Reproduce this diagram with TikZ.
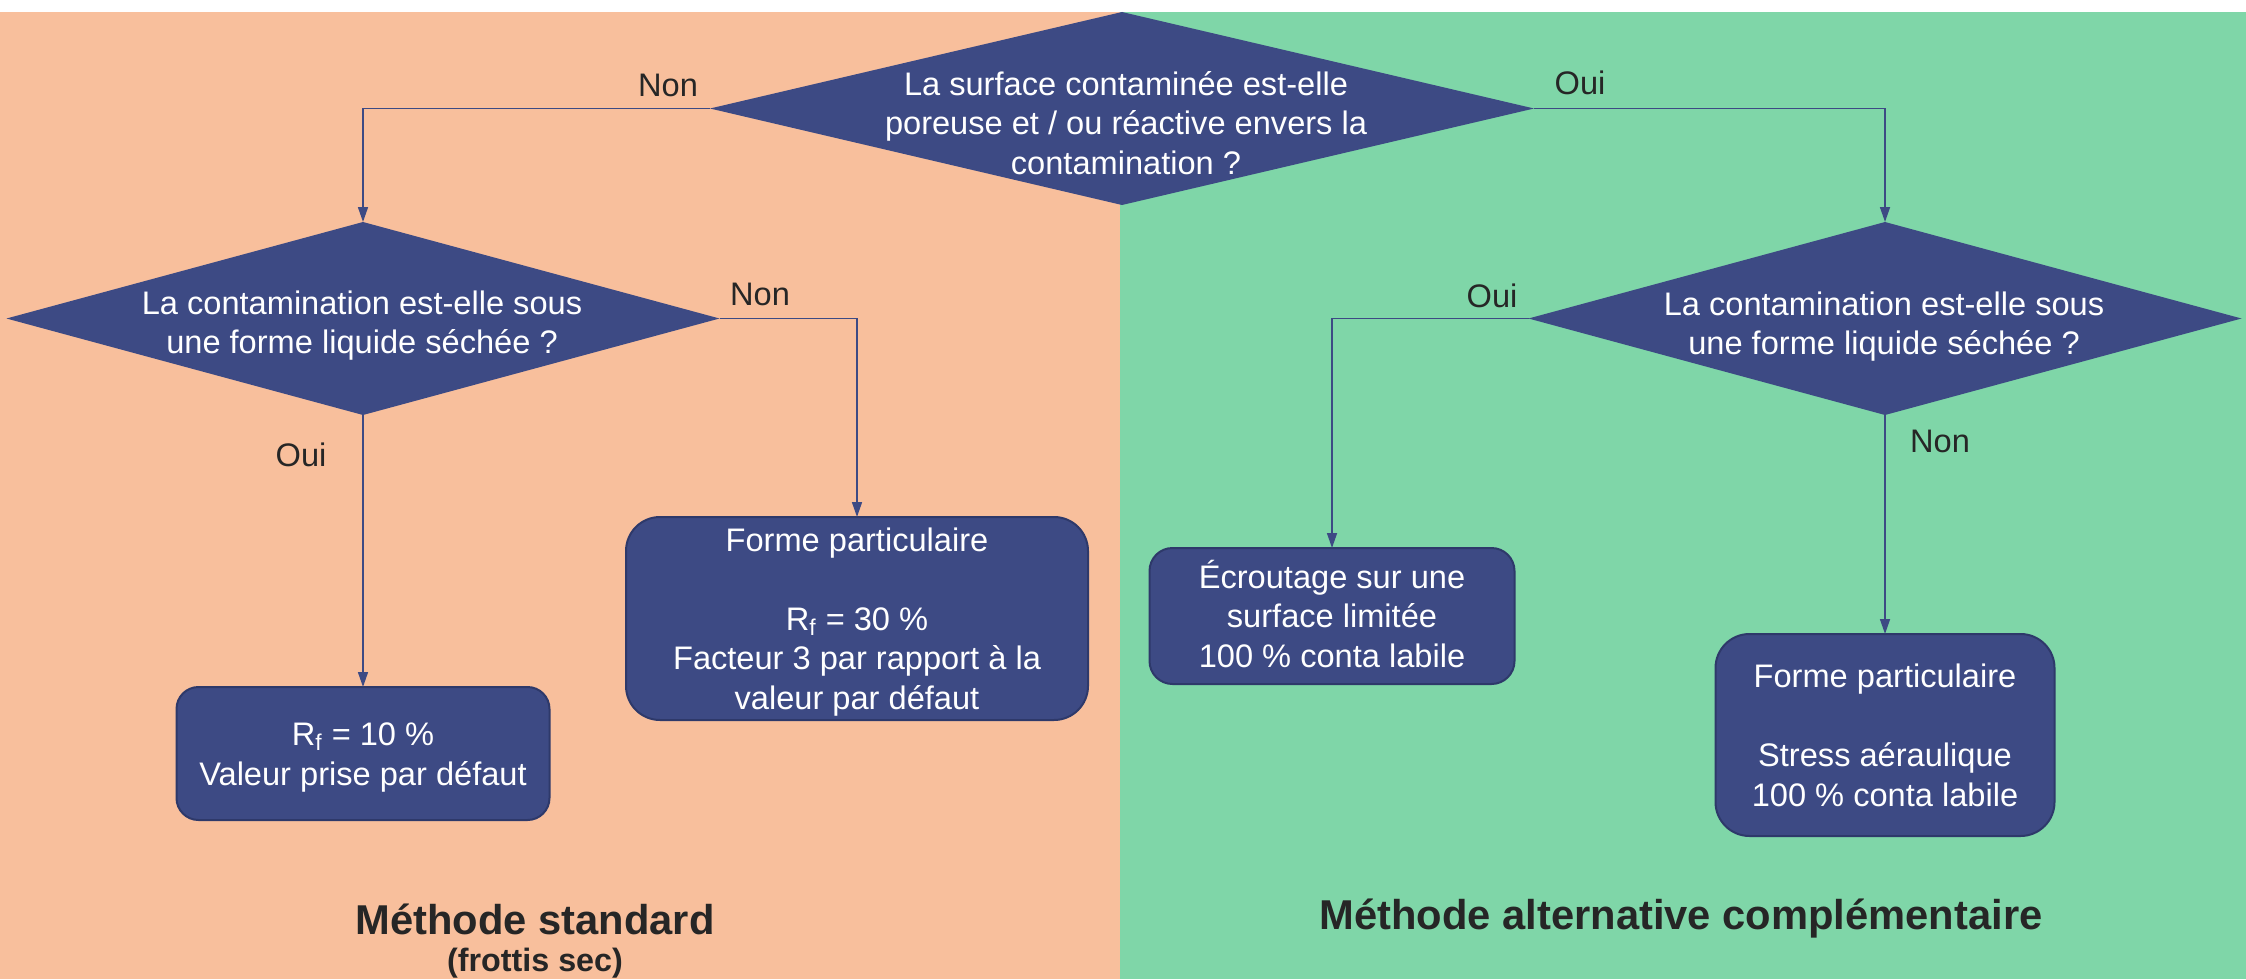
\documentclass[tikz,border=0pt]{standalone}
\usepackage{fontspec}
\setmainfont{Liberation Sans}
\usetikzlibrary{shapes.geometric,arrows.meta,calc}

\definecolor{peach}{HTML}{F8BF9C}
\definecolor{mint}{HTML}{7FD6A8}
\definecolor{navy}{HTML}{3D4A84}
\definecolor{navyedge}{HTML}{2E396A}
\definecolor{ink}{HTML}{262626}

% line strut: baseline at 80% of the line pitch
\newcommand\lnstrut{\rule[-0.2\baselineskip]{0pt}{\baselineskip}}

\begin{document}
\begin{tikzpicture}[x=0.5pt,y=-0.5pt,
  txt/.style={font=\fontsize{16.3}{19.75}\selectfont, inner sep=0pt},
  decision/.style={diamond, fill=navy, draw=none, inner sep=0pt, outer sep=0pt,
    minimum height=96.5pt},
  qtext/.style={txt, text=white, align=center},
  outcome/.style={rectangle, fill=navy, draw=navyedge, line width=1pt,
    text=white, align=center, inner sep=0pt, outer sep=0pt,
    font=\fontsize{16.3}{19.75}\selectfont},
  answer/.style={txt, text=ink},
  conn/.style={draw=navy, line width=0.8pt,
    -{Triangle[length=7.5pt,width=5pt]}},
  heading/.style={font=\fontsize{20.85}{24}\selectfont\bfseries, text=ink, inner sep=0pt},
  subheading/.style={font=\fontsize{16.15}{19}\selectfont\bfseries, text=ink, inner sep=0pt}]

% page and the two method panels
\useasboundingbox (0,0) rectangle (2246,979);
\fill[white] (0,0) rectangle (2246,979);
\fill[peach] (0,12) rectangle (1120,979);
\fill[mint] (1120,12) rectangle (2246,979);

% decisions
\node[decision, minimum width=412pt] (q1) at (1122,108.5) {};
\node[decision, minimum width=356.5pt] (q2) at (363,318.5) {};
\node[decision, minimum width=356.5pt] (q3) at (1885,318.5) {};

\node[qtext] (q1t) at (1126,123) {\lnstrut La surface contaminée est-elle\\\lnstrut poreuse et / ou réactive envers la\\\lnstrut contamination ?};
\node[qtext] (q2t) at (362,322) {\lnstrut La contamination est-elle sous\\\lnstrut une forme liquide séchée ?};
\node[qtext] (q3t) at (1884,323) {\lnstrut La contamination est-elle sous\\\lnstrut une forme liquide séchée ?};

% outcomes
\node[outcome, minimum width=186.5pt, minimum height=66.5pt, rounded corners=11pt]
  (b10) at (363,753.5) {\lnstrut R\textsubscript{f} = 10 \%\\\lnstrut Valeur prise par défaut};
\node[outcome, minimum width=231pt, minimum height=101.5pt, rounded corners=17pt]
  (bpart) at (857,618.5) {\lnstrut Forme particulaire\\[19.75pt]\lnstrut R\textsubscript{f} = 30 \%\\\lnstrut Facteur 3 par rapport à la\\\lnstrut valeur par défaut};
\node[outcome, minimum width=182.5pt, minimum height=68pt, rounded corners=11.5pt]
  (becr) at (1332,616) {\lnstrut Écroutage sur une\\\lnstrut surface limitée\\\lnstrut 100 \% conta labile};
\node[outcome, minimum width=169.5pt, minimum height=101pt, rounded corners=17pt]
  (bpart2) at (1885,735) {\lnstrut Forme particulaire\\[19.75pt]\lnstrut Stress aéraulique\\\lnstrut 100 \% conta labile};

% connectors
\draw[conn] (q1.west) -| (q2.north);
\draw[conn] (q1.east) -| (q3.north);
\draw[conn] (q2.east) -| (bpart.north);
\draw[conn] (q2.south) -- (b10.north);
\draw[conn] (q3.west) -| (becr.north);
\draw[conn] (q3.south) -- (bpart2.north);

% branch answers
\node[answer] (a1) at (668,85) {Non};
\node[answer] (a2) at (1580,83) {Oui};
\node[answer] (a3) at (760,294) {Non};
\node[answer] (a4) at (301,455) {Oui};
\node[answer] (a5) at (1492,296) {Oui};
\node[answer] (a6) at (1940,441) {Non};

% panel titles
\node[heading] (h1) at (535,919) {Méthode standard};
\node[subheading] (h1s) at (535,963) {(frottis sec)};
\node[heading] (h2) at (1681,919) {Méthode alternative complémentaire};

\end{tikzpicture}
\end{document}
